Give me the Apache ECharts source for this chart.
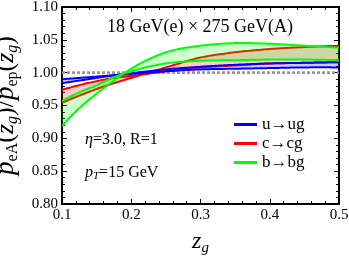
<!DOCTYPE html>
<html><head><meta charset="utf-8">
<script src="https://cdn.jsdelivr.net/npm/echarts@6/dist/echarts.min.js"></script>
<style>html,body{margin:0;padding:0;background:#fff}#c{width:349px;height:256px}</style>
</head><body><div id="c"></div>
<script>
// ---- data ----
const zg = [0.1, 0.125, 0.15, 0.175, 0.2, 0.25, 0.3, 0.35, 0.4, 0.45, 0.5];
// u -> ug band edges
const uEdge1 = [0.984, 0.988, 0.992, 0.996, 0.999, 1.005, 1.009, 1.012, 1.014, 1.015, 1.016];
const uEdge2 = [0.990, 0.992, 0.994, 0.996, 0.998, 1.002, 1.005, 1.006, 1.007, 1.008, 1.008];
// c -> cg band edges
const cEdge1 = [0.974, 0.981, 0.987, 0.992, 0.995, 1.002, 1.008, 1.011, 1.014, 1.015, 1.016];
const cEdge2 = [0.954, 0.965, 0.975, 0.984, 0.992, 1.008, 1.023, 1.031, 1.036, 1.039, 1.041];
// b -> bg band edges
const bEdge1 = [0.919, 0.946, 0.968, 0.988, 1.006, 1.031, 1.041, 1.045, 1.044, 1.041, 1.038];
const bEdge2 = [0.957, 0.970, 0.981, 0.993, 1.002, 1.014, 1.018, 1.019, 1.020, 1.020, 1.019];
const legendNames = ['u\u2192ug', 'c\u2192cg', 'b\u2192bg'];
const refLine = 1.0;
const xMin = 0.1, xMax = 0.5, xStep = 0.1;
const yMin = 0.8, yMax = 1.1, yStep = 0.05;

const SERIF = "'Liberation Serif','DejaVu Serif',serif";
const BLUE = '#0000ff', RED = '#ff0000', GREEN = '#00ff00';

function segments(p) {
  const n = p.length, h = [], s = [], m = [];
  for (let i = 0; i < n - 1; i++) { h[i] = p[i + 1][0] - p[i][0]; s[i] = (p[i + 1][1] - p[i][1]) / h[i]; }
  for (let i = 1; i < n - 1; i++) m[i] = (s[i - 1] * h[i] + s[i] * h[i - 1]) / (h[i - 1] + h[i]);
  m[0] = (3 * s[0] - m[1]) / 2;
  m[n - 1] = (3 * s[n - 2] - m[n - 2]) / 2;
  const out = [];
  for (let i = 0; i < n - 1; i++) {
    const p0 = p[i], p3 = p[i + 1], hh = h[i];
    const c1 = [p0[0] + hh / 3, p0[1] + m[i] * hh / 3];
    const c2 = [p3[0] - hh / 3, p3[1] - m[i + 1] * hh / 3];
    for (let k = (i === 0 ? 0 : 1); k <= 16; k++) {
      const t = k / 16, u = 1 - t;
      out.push([
        u * u * u * p0[0] + 3 * u * u * t * c1[0] + 3 * u * t * t * c2[0] + t * t * t * p3[0],
        u * u * u * p0[1] + 3 * u * u * t * c1[1] + 3 * u * t * t * c2[1] + t * t * t * p3[1]
      ]);
    }
  }
  return out;
}

function renderItem(params, api) {
  const pix = arr => zg.map((x, i) => api.coord([x, arr[i]]));
  const curve = arr => segments(pix(arr));
  const band = (a, b, fill) => ({
    type: 'polygon', shape: { points: curve(a).concat(curve(b).reverse()) },
    style: { fill: fill, stroke: null }
  });
  const line = (a, color) => ({
    type: 'polyline', shape: { points: curve(a) },
    style: { stroke: color, lineWidth: 2, fill: null }
  });
  const l0 = api.coord([xMin, refLine]), l1 = api.coord([xMax, refLine]);
  return {
    type: 'group', children: [
      { type: 'line', shape: { x1: l0[0], y1: l0[1], x2: l1[0], y2: l1[1] },
        style: { stroke: '#999999', lineWidth: 2.6, lineDash: [3, 2] } },
      band(uEdge1, uEdge2, 'rgba(0,0,255,0.2)'),
      band(cEdge1, cEdge2, 'rgba(255,0,0,0.2)'),
      line(cEdge1, RED), line(cEdge2, RED),
      band(bEdge1, bEdge2, 'rgba(0,255,0,0.2)'),
      line(uEdge1, BLUE), line(uEdge2, BLUE),
      line(bEdge1, GREEN), line(bEdge2, GREEN)
    ]
  };
}

const tickCommon = {
  axisLine: { show: true, onZero: false, lineStyle: { color: '#000', width: 2 } },
  axisTick: { show: true, inside: true, length: 5, lineStyle: { color: '#000', width: 1 } },
  minorTick: { show: true, splitNumber: 5, length: 3, lineStyle: { color: '#000', width: 1 } },
  splitLine: { show: false }
};

const chart = echarts.init(document.getElementById('c'), null, { renderer: 'canvas' });
chart.setOption({
  animation: false,
  grid: { left: 62, right: 10, top: 7, bottom: 52, outerBoundsMode: 'none', containLabel: false },
  xAxis: [
    Object.assign({ type: 'value', min: xMin, max: xMax, interval: xStep, position: 'bottom',
      axisLabel: { color: '#000', fontFamily: SERIF, fontSize: 15, margin: 4, formatter: v => v.toFixed(1) },
      name: '{z|z}{s|g}', nameLocation: 'middle', nameGap: 26,
      nameTextStyle: { rich: {
        z: { fontFamily: SERIF, fontStyle: 'italic', fontSize: 24, color: '#000' },
        s: { fontFamily: SERIF, fontStyle: 'italic', fontSize: 15, color: '#000', verticalAlign: 'bottom', padding: [0, 0, -2, 0] }
      } } }, tickCommon),
    Object.assign({ type: 'value', min: xMin, max: xMax, interval: xStep, position: 'top',
      axisLabel: { show: false } }, tickCommon)
  ],
  yAxis: [
    Object.assign({ type: 'value', min: yMin, max: yMax, interval: yStep, position: 'left',
      axisLabel: { color: '#000', fontFamily: SERIF, fontSize: 15, margin: 4, formatter: v => v.toFixed(2) },
      name: '{p|p}{s|eA}{n|(}{z|z}{g|g}{n|)/}{p|p}{s|ep}{n|(}{z|z}{g|g}{n|)}',
      nameLocation: 'middle', nameRotate: 90, nameGap: 38,
      nameTextStyle: { rich: {
        p: { fontFamily: SERIF, fontStyle: 'italic', fontSize: 27, color: '#000' },
        z: { fontFamily: SERIF, fontStyle: 'italic', fontSize: 26, color: '#000' },
        n: { fontFamily: SERIF, fontSize: 26, color: '#000' },
        s: { fontFamily: SERIF, fontSize: 16, color: '#000', verticalAlign: 'bottom', padding: [0, 0, -1, 0] },
        g: { fontFamily: SERIF, fontStyle: 'italic', fontSize: 16, color: '#000', verticalAlign: 'bottom', padding: [0, 0, -1, 0] }
      } } }, tickCommon),
    Object.assign({ type: 'value', min: yMin, max: yMax, interval: yStep, position: 'right',
      axisLabel: { show: false } }, tickCommon)
  ],
  legend: {
    orient: 'vertical', left: 234, top: 116, itemGap: 2, padding: 0,
    icon: 'rect', itemWidth: 23, itemHeight: 3, itemStyle: { borderWidth: 0 },
    textStyle: { fontFamily: SERIF, fontSize: 17, color: '#000' },
    data: legendNames
  },
  graphic: [
    { type: 'text', x: 200, y: 27,
      style: { text: '18 GeV(e) \u00d7 275 GeV(A)', font: '18px ' + SERIF, fill: '#000', align: 'center', verticalAlign: 'middle' } },
    { type: 'text', x: 85, y: 140,
      style: { text: '{i|\u03b7}=3.0, R=1', font: '16px ' + SERIF, fill: '#000', align: 'left', verticalAlign: 'middle',
        rich: { i: { fontFamily: SERIF, fontStyle: 'italic', fontSize: 16 } } } },
    { type: 'text', x: 85, y: 173,
      style: { text: '{i|p}{s|T}=15 GeV', font: '16px ' + SERIF, fill: '#000', align: 'left', verticalAlign: 'middle',
        rich: { i: { fontFamily: SERIF, fontStyle: 'italic', fontSize: 16 },
                s: { fontFamily: SERIF, fontStyle: 'italic', fontSize: 11, verticalAlign: 'bottom', padding: [0, 0, -1, 0] } } } }
  ],
  series: [
    { type: 'custom', coordinateSystem: 'cartesian2d', clip: true, renderItem: renderItem, data: [[0.3, 1.0]], silent: true, z: 2 },
    { type: 'line', name: legendNames[0], data: [], color: BLUE, lineStyle: { color: BLUE } },
    { type: 'line', name: legendNames[1], data: [], color: RED, lineStyle: { color: RED } },
    { type: 'line', name: legendNames[2], data: [], color: GREEN, lineStyle: { color: GREEN } }
  ]
});
</script></body></html>
